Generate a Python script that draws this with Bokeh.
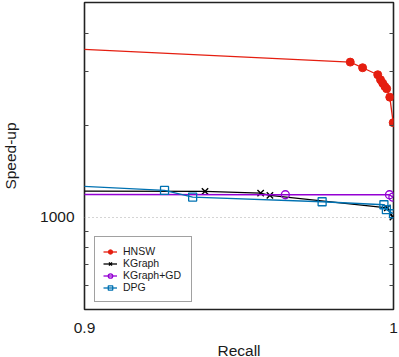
import math
from bokeh.plotting import figure
from bokeh.layouts import row, column
from bokeh.models import FixedTicker, LogAxis, Range1d, Legend, LegendItem, CustomJSTickFormatter
from bokeh.core.properties import value
from bokeh.embed import file_html
from bokeh.resources import INLINE

# ---- data ----
hnsw_recall = [0.80, 0.986, 0.990, 0.9949, 0.9958, 0.9965, 0.9972, 0.9978, 0.9988, 0.9999]
hnsw_speedup = [3960, 3218, 3085, 2926, 2818, 2747, 2680, 2634, 2472, 2040]

kgraph_recall = [0.85, 0.939, 0.957, 0.960, 0.998, 0.9998]
kgraph_speedup = [1222, 1216, 1200, 1180, 1074, 1002]

kgd_recall = [0.85, 0.965, 0.9987, 0.9998]
kgd_speedup = [1190, 1186, 1186, 1165]

dpg_recall = [0.85, 0.9259, 0.935, 0.9769, 0.9969, 0.9977, 1.0]
dpg_speedup = [1338, 1225, 1165, 1125, 1100, 1060, 1028]

x_ticks = [0.9, 1.0]
x_tick_labels = ["0.9", "1"]
y_ticks = [1000]
y_minor_ticks = [600, 700, 800, 900, 2000, 3000, 4000]
x_title = "Recall"
y_title = "Speed-up"

FONT = "Liberation Sans"
FS = "15.5px"
TXT = "#1a1a1a"

# layout geometry (pixels)
LEFT_STRIP = 20
MAIN_W, MAIN_H = 379, 311
BOTTOM_H = 357 - MAIN_H
FR_LEFT, FR_RIGHT = 64, 6
X0, X1 = 0.9, 1.0

# ---- main plot ----
p = figure(width=MAIN_W, height=MAIN_H, output_backend="svg", toolbar_location=None,
           x_range=Range1d(X0, X1), y_range=Range1d(500, 5040), y_axis_type="log",
           min_border_left=FR_LEFT, min_border_right=FR_RIGHT, min_border_top=2, min_border_bottom=2)
p.background_fill_color = "white"
p.border_fill_color = "white"
p.outline_line_color = "#222222"
p.outline_line_width = 1.6

xa = p.xaxis[0]
xa.visible = False
ya = p.yaxis[0]
ya.ticker = FixedTicker(ticks=y_ticks, minor_ticks=y_minor_ticks)
ya.formatter = CustomJSTickFormatter(code="return Math.round(tick).toString();")
ya.axis_line_color = None
ya.major_tick_out = 0
ya.major_tick_in = 0
ya.minor_tick_out = 0
ya.minor_tick_in = 4
ya.minor_tick_line_color = "#444444"
ya.major_label_text_font = FONT
ya.major_label_text_font_size = FS
ya.major_label_text_color = TXT
ya.major_label_standoff = 10

ra = LogAxis(ticker=FixedTicker(ticks=y_ticks, minor_ticks=y_minor_ticks))
ra.axis_line_color = None
ra.major_tick_out = 0
ra.major_tick_in = 0
ra.minor_tick_out = 0
ra.minor_tick_in = 4
ra.minor_tick_line_color = "#444444"
ra.major_label_text_font_size = "0px"
ra.major_label_text_color = None
p.add_layout(ra, "right")

p.xgrid.grid_line_color = None
p.ygrid.ticker = FixedTicker(ticks=y_ticks)
p.ygrid.grid_line_color = "#aaaaaa"
p.ygrid.grid_line_dash = "1 3"
p.ygrid.grid_line_width = 1

red = "#e51e10"
purple = "#9400d3"
blue = "#0072b2"

l1 = p.line(hnsw_recall, hnsw_speedup, line_color=red, line_width=1.3)
s1 = p.scatter(hnsw_recall, hnsw_speedup, marker="circle", size=8, fill_color=red, line_color=red)

l2 = p.line(kgraph_recall, kgraph_speedup, line_color="black", line_width=1.3)
s2 = p.scatter(kgraph_recall, kgraph_speedup, marker="x", size=9, line_color="black", line_width=1.4)

l3 = p.line(kgd_recall, kgd_speedup, line_color=purple, line_width=1.3)
s3 = p.scatter(kgd_recall, kgd_speedup, marker="circle", size=8, fill_color=None, line_color=purple, line_width=1.3)

l4 = p.line(dpg_recall, dpg_speedup, line_color=blue, line_width=1.3)
s4 = p.scatter(dpg_recall, dpg_speedup, marker="square", size=8, fill_color=None, line_color=blue, line_width=1.3)

legend = Legend(items=[
    LegendItem(label="HNSW", renderers=[l1, s1]),
    LegendItem(label="KGraph", renderers=[l2, s2]),
    LegendItem(label="KGraph+GD", renderers=[l3, s3]),
    LegendItem(label="DPG", renderers=[l4, s4]),
], location=(10, 7))
legend.label_text_font = FONT
legend.label_text_font_size = "10.5px"
legend.label_text_color = TXT
legend.glyph_height = 11
legend.glyph_width = 14
legend.label_height = 11
legend.label_width = 60
legend.spacing = 0
legend.padding = 8
legend.margin = 0
legend.label_standoff = 6
legend.border_line_color = "#444444"
legend.border_line_width = 1
legend.background_fill_alpha = 1
p.add_layout(legend, "center")


def strip(w, h, xr, yr):
    f = figure(width=w, height=h, output_backend="svg", toolbar_location=None,
               x_range=xr, y_range=yr, x_axis_type=None, y_axis_type=None, min_border=0)
    f.frame_align = False
    f.outline_line_color = None
    f.background_fill_color = "white"
    f.border_fill_color = "white"
    f.grid.visible = False
    return f


# x tick labels + title strip, sharing the plot's x scale
frame_w = MAIN_W - FR_LEFT - FR_RIGHT
per_px = (X1 - X0) / frame_w
xt = strip(MAIN_W, BOTTOM_H,
           Range1d(X0 - FR_LEFT * per_px, X1 + FR_RIGHT * per_px), Range1d(0, BOTTOM_H))
xt.text(x=x_ticks, y=[BOTTOM_H - 16] * len(x_ticks), text=x_tick_labels,
        text_align="center", text_baseline="middle",
        text_font=value(FONT), text_font_size=value(FS), text_color=TXT)
xt.text(x=[(X0 + X1) / 2], y=[7.5], text=[x_title], text_align="center", text_baseline="middle",
        text_font=value(FONT), text_font_size=value(FS), text_color=TXT)

# y title strip
yt = strip(LEFT_STRIP, 357, Range1d(0, LEFT_STRIP), Range1d(0, 357))
yt.text(x=[9.5], y=[201.5], text=[y_title], angle=math.pi / 2, text_align="center",
        text_baseline="middle", text_font=value(FONT), text_font_size=value(FS), text_color=TXT)

layout = row(yt, column(p, xt, spacing=0), spacing=0)

open("out.html", "w").write(file_html(layout, INLINE))
